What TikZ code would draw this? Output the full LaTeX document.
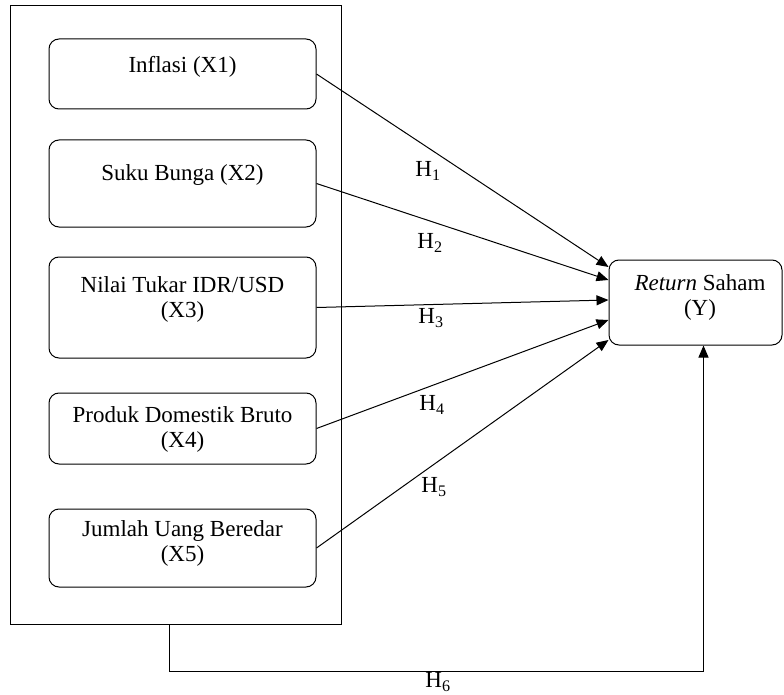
\documentclass[tikz,border=0pt]{standalone}
\usepackage{fontspec}
\setmainfont{Liberation Serif}
\usetikzlibrary{arrows.meta}

\begin{document}
\begin{tikzpicture}[x=1pt,y=-1pt]
\tikzset{every node/.style={font=\fontsize{23}{25}\selectfont}}
\tikzset{var/.style={draw,rounded corners=10pt,line width=1pt,minimum width=267pt,inner sep=0pt}}
\tikzset{txt/.style={align=center,inner sep=0pt}}
\tikzset{hyp/.style={-{Triangle[length=12pt,width=10pt]},line width=1pt}}

\useasboundingbox (0,0) rectangle (784,695);

\node[draw,line width=1pt,minimum width=331pt,minimum height=618pt,inner sep=0pt] (frame) at (175.5,315) {};

\node[var,minimum height=70pt] (x1) at (182.5,74) {};
\node[var,minimum height=87pt] (x2) at (182.5,183.5) {};
\node[var,minimum height=101pt] (x3) at (182.5,307.5) {};
\node[var,minimum height=71pt] (x4) at (182.5,428.5) {};
\node[var,minimum height=78pt] (x5) at (182.5,548) {};
\node[var,minimum width=173pt,minimum height=85pt] (yb) at (695.5,302.5) {};

\node[txt] (t1) at (182.5,67) {Inflasi (X1)};
\node[txt] (t2) at (182.5,175) {Suku Bunga (X2)};
\node[txt] (t3) at (182.5,299) {Nilai Tukar IDR/USD\\(X3)};
\node[txt] (t4) at (182.5,429.5) {Produk Domestik Bruto\\(X4)};
\node[txt] (t5) at (182.5,543.5) {Jumlah Uang Beredar\\(X5)};
\node[txt] (ty) at (700,297) {\textit{Return} Saham\\(Y)};

\draw[hyp] (x1.east) -- ([yshift=35.5pt]yb.west);
\draw[hyp] (x2.east) -- ([yshift=22.5pt]yb.west);
\draw[hyp] (x3.east) -- ([yshift=2.5pt]yb.west);
\draw[hyp] (x4.east) -- ([yshift=-17.5pt]yb.west);
\draw[hyp] (x5.east) -- ([yshift=-37.5pt]yb.west);
\draw[hyp] ([xshift=-6.5pt]frame.south) -- ++(0,47) -| ([xshift=8pt]yb.south);

\node (h1) at (428,171) {H\textsubscript{1}};
\node (h2) at (430,243) {H\textsubscript{2}};
\node (h3) at (431,318) {H\textsubscript{3}};
\node (h4) at (432,405) {H\textsubscript{4}};
\node (h5) at (434,487) {H\textsubscript{5}};
\node (h6) at (438,682) {H\textsubscript{6}};

\end{tikzpicture}
\end{document}
